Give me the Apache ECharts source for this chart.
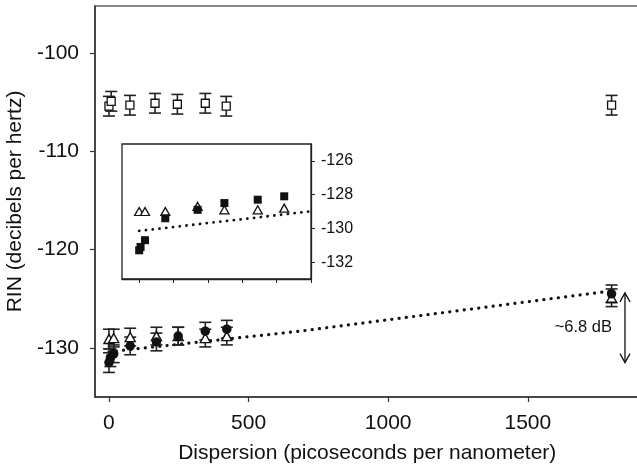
<!DOCTYPE html>
<html>
<head>
<meta charset="utf-8">
<script src="https://cdn.jsdelivr.net/npm/echarts@6/dist/echarts.min.js"></script>
<style>
  html, body { margin: 0; padding: 0; background: #fff; }
  #chart { width: 637px; height: 469px; }
</style>
</head>
<body>
<div id="chart"></div>
<script>
// main plot ticks
const xTicks = [0, 500, 1000, 1500];
const yTicks = [-130, -120, -110, -100];
// inset ticks
const insetXTicks = [0, 100, 200, 300, 400, 500];
const insetYTicks = [-132, -130, -128, -126];

// open squares (upper group)
const sqX = [0, 8, 75, 165, 245, 345, 420, 1800];
const sqY = [-105.4, -104.9, -105.3, -105.1, -105.2, -105.1, -105.4, -105.3];
const sqErr = [1.0, 1.0, 1.0, 1.0, 1.0, 1.0, 1.0, 1.0];

// open triangles
const triX = [0, 17, 76, 170, 248, 345, 422, 1800];
const triY = [-129.1, -129.0, -128.9, -128.8, -128.8, -129.0, -128.8, -124.9];
const triErr = [1.0, 0.9, 0.9, 0.9, 0.9, 0.9, 0.9, 0.9];

// filled circles
const circX = [0, 5, 17, 76, 170, 248, 345, 422, 1800];
const circY = [-131.5, -131.0, -130.6, -129.8, -129.4, -128.8, -128.3, -128.1, -124.5];
const circErr = [1.0, 0.9, 0.9, 0.9, 0.9, 0.9, 0.9, 0.9, 0.9];

// dotted trend line
const fitX = [0, 684, 1800];
const fitY = [-130.4, -128.3, -124.2];

// inset data
const insetX = [0, 17, 76, 170, 248, 345, 422];
const insetTri = [-129.0, -129.0, -129.0, -128.7, -128.9, -128.9, -128.8];
const insetSqX = [0, 4, 17, 76, 170, 248, 345, 422];
const insetSq = [-131.3, -131.1, -130.7, -129.4, -128.9, -128.5, -128.3, -128.1];
const insetFitX = [0, 495];
const insetFitY = [-130.15, -129.0];

// annotation arrow
const arrowX = 1848;
const arrowTop = -124.4;
const arrowBottom = -131.5;
const arrowText = "~6.8 dB";

const FONT = "'Liberation Sans', Arial, sans-serif";
const INK = "#111";

const zip = (xs, ys) => xs.map((x, i) => [x, ys[i]]);
const plain = (v) => String(v);

const errorBars = (xs, ys, es, z) => ({
  type: "custom",
  xAxisIndex: 0,
  yAxisIndex: 0,
  z: z,
  silent: true,
  encode: { x: 0, y: [1, 2] },
  data: xs.map((x, i) => [x, ys[i] - es[i], ys[i] + es[i]]),
  renderItem: (params, api) => {
    const lo = api.coord([api.value(0), api.value(1)]);
    const hi = api.coord([api.value(0), api.value(2)]);
    const w = 6;
    const st = { stroke: "#222", lineWidth: 1.6 };
    return {
      type: "group",
      children: [
        { type: "line", shape: { x1: lo[0], y1: lo[1], x2: hi[0], y2: hi[1] }, style: st },
        { type: "line", shape: { x1: lo[0] - w, y1: lo[1], x2: lo[0] + w, y2: lo[1] }, style: st },
        { type: "line", shape: { x1: hi[0] - w, y1: hi[1], x2: hi[0] + w, y2: hi[1] }, style: st },
      ],
    };
  },
});

const chart = echarts.init(document.getElementById("chart"), null, { renderer: "canvas" });

const option = {
  backgroundColor: "#fff",
  animation: false,
  textStyle: { fontFamily: FONT },
  grid: [
    {
      left: 95, top: 6, width: 544.5, height: 391,
      show: true, borderColor: "#666", borderWidth: 1.6,
      outerBoundsMode: "none",
    },
    {
      left: 122, top: 144, width: 189, height: 135,
      show: true, backgroundColor: "#fff", borderColor: "#222", borderWidth: 1.3,
      outerBoundsMode: "none",
      z: 5,
    },
  ],
  xAxis: [
    {
      type: "value", gridIndex: 0, min: -50, max: 1900,
      name: "Dispersion (picoseconds per nanometer)",
      nameLocation: "middle", nameGap: 46,
      nameTextStyle: { fontSize: 21, color: INK, fontFamily: FONT },
      axisLine: { show: true, onZero: false, lineStyle: { color: "#333", width: 1.5 } },
      axisTick: { show: true, length: 5, lineStyle: { color: "#333", width: 1.2 }, customValues: xTicks },
      axisLabel: { fontSize: 21, color: INK, margin: 16, fontFamily: FONT, customValues: xTicks, formatter: plain },
      splitLine: { show: false },
    },
    {
      type: "value", gridIndex: 1, min: -50, max: 500,
      axisLine: { show: true, onZero: false, lineStyle: { color: "#222", width: 1.3 } },
      axisTick: { show: true, length: 4, lineStyle: { color: "#222", width: 1 }, customValues: insetXTicks },
      axisLabel: { show: false },
      splitLine: { show: false },
      z: 6,
    },
  ],
  yAxis: [
    {
      type: "value", gridIndex: 0, min: -135, max: -95.2,
      name: "RIN (decibels per hertz)",
      nameLocation: "middle", nameGap: 63,
      nameTextStyle: { fontSize: 21, color: INK, fontFamily: FONT },
      axisLine: { show: true, onZero: false, lineStyle: { color: "#333", width: 1.5 } },
      axisTick: { show: true, length: 5, lineStyle: { color: "#333", width: 1.2 }, customValues: yTicks },
      axisLabel: { fontSize: 21, color: INK, margin: 16, fontFamily: FONT, customValues: yTicks, formatter: plain },
      splitLine: { show: false },
    },
    {
      type: "value", gridIndex: 1, position: "right", min: -133, max: -125,
      axisLine: { show: true, onZero: false, lineStyle: { color: "#222", width: 1.3 } },
      axisTick: { show: true, length: 4, lineStyle: { color: "#222", width: 1 }, customValues: insetYTicks },
      axisLabel: { fontSize: 16, color: INK, margin: 10, fontFamily: FONT, customValues: insetYTicks, formatter: plain },
      splitLine: { show: false },
      z: 6,
    },
  ],
  series: [
    // dotted trend line (main)
    {
      type: "line", xAxisIndex: 0, yAxisIndex: 0, z: 1,
      data: zip(fitX, fitY), symbol: "none", silent: true,
      lineStyle: { color: INK, width: 3.2, type: [0.1, 7.2], cap: "round" },
    },
    errorBars(sqX, sqY, sqErr, 2),
    errorBars(triX, triY, triErr, 2),
    errorBars(circX, circY, circErr, 2),
    {
      type: "scatter", xAxisIndex: 0, yAxisIndex: 0, z: 3,
      data: zip(sqX, sqY), symbol: "rect", symbolSize: 8,
      itemStyle: { color: "#fff", borderColor: INK, borderWidth: 1.3, opacity: 1 },
    },
    {
      type: "scatter", xAxisIndex: 0, yAxisIndex: 0, z: 3,
      data: zip(triX, triY), symbol: "triangle", symbolSize: [10, 9],
      itemStyle: { color: "#fff", borderColor: INK, borderWidth: 1.4, opacity: 1 },
    },
    {
      type: "scatter", xAxisIndex: 0, yAxisIndex: 0, z: 4,
      data: zip(circX, circY), symbol: "circle", symbolSize: 9.5,
      itemStyle: { color: INK, opacity: 1 },
    },
    // annotation arrow
    {
      type: "custom", xAxisIndex: 0, yAxisIndex: 0, z: 4, silent: true,
      data: [[arrowX, arrowTop, arrowBottom]],
      encode: { x: 0, y: [1, 2] },
      renderItem: (params, api) => {
        const t = api.coord([api.value(0), api.value(1)]);
        const b = api.coord([api.value(0), api.value(2)]);
        const st = { stroke: INK, lineWidth: 1.3, fill: null };
        return {
          type: "group",
          children: [
            { type: "line", shape: { x1: t[0], y1: t[1], x2: b[0], y2: b[1] }, style: st },
            { type: "polyline", shape: { points: [[t[0] - 5, t[1] + 9], [t[0], t[1]], [t[0] + 5, t[1] + 9]] }, style: st },
            { type: "polyline", shape: { points: [[b[0] - 5, b[1] - 9], [b[0], b[1]], [b[0] + 5, b[1] - 9]] }, style: st },
            {
              type: "text",
              x: t[0] - 13, y: (t[1] + b[1]) / 2,
              style: { text: arrowText, fill: INK, font: "16.5px " + FONT, align: "right", verticalAlign: "middle" },
            },
          ],
        };
      },
    },
    // inset
    {
      type: "line", xAxisIndex: 1, yAxisIndex: 1, z: 7,
      data: zip(insetFitX, insetFitY), symbol: "none", silent: true,
      lineStyle: { color: INK, width: 2.8, type: [0.1, 6.7], cap: "round" },
    },
    {
      type: "scatter", xAxisIndex: 1, yAxisIndex: 1, z: 7,
      data: zip(insetX, insetTri), symbol: "triangle", symbolSize: [9, 8],
      itemStyle: { color: "#fff", borderColor: INK, borderWidth: 1.3, opacity: 1 },
    },
    {
      type: "scatter", xAxisIndex: 1, yAxisIndex: 1, z: 8,
      data: zip(insetSqX, insetSq), symbol: "rect", symbolSize: 8,
      itemStyle: { color: INK, opacity: 1 },
    },
  ],
};

chart.setOption(option);
</script>
</body>
</html>
